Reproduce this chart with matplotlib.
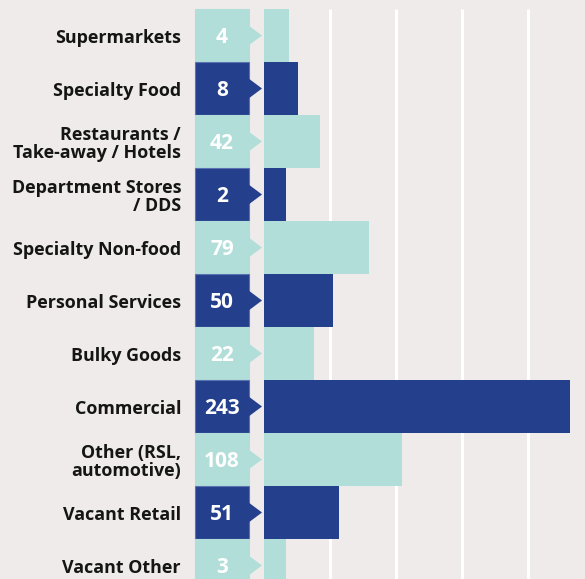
import matplotlib
matplotlib.use('Agg')
import matplotlib.pyplot as plt
from matplotlib.patches import Polygon, Rectangle

# ------------------------------------------------------
# Data
categories = ['Supermarkets', 'Specialty Food', 'Restaurants /\nTake-away / Hotels',
              'Department Stores\n/ DDS', 'Specialty Non-food', 'Personal Services',
              'Bulky Goods', 'Commercial', 'Other (RSL,\nautomotive)', 'Vacant Retail',
              'Vacant Other']
counts = [4, 8, 42, 2, 79, 50, 22, 243, 108, 51, 3]
# drawn bar lengths, in gridline units (gridlines every 50)
bar_len = [19, 26.5, 43, 16.7, 80, 53, 38, 232, 105, 57, 17.4]
gridlines = [50, 100, 150, 200]

bg = '#efebea'
light = '#b1ded8'
dark = '#243f8c'
colors = [light if i % 2 == 0 else dark for i in range(len(counts))]

W, H = 585, 579
x0 = 263.5          # px where bars start
ppu = 1.32          # px per data unit
row = 53.0          # px per row
y_first = 35.5      # px centre of first row

fig = plt.figure(figsize=(W/100, H/100), dpi=100, facecolor=bg)
ax = fig.add_axes([0, 0, 1, 1])
ax.set_facecolor(bg)
ax.set_xlim(-x0/ppu, (W-x0)/ppu)
ax.set_ylim((H-y_first)/row, -y_first/row)
ax.axis('off')

n = len(counts)
ax.vlines(gridlines, -0.5, n, color='white', lw=2.2, zorder=1)

ax.barh(range(n), bar_len, height=1.0, color=colors, zorder=2)

box_l = (195-x0)/ppu
box_r = (249-x0)/ppu
tip = (262-x0)/ppu
half = 10/row
for i, (c, col) in enumerate(zip(counts, colors)):
    ec = '#5b72b3' if col == dark else col
    ax.add_patch(Rectangle((box_l, i-0.5), box_r-box_l, 1.0, facecolor=col,
                           edgecolor=ec, lw=0.8, zorder=3))
    ax.add_patch(Polygon([(box_r-0.3, i-half), (tip, i), (box_r-0.3, i+half)],
                         closed=True, facecolor=col, edgecolor='none', zorder=4))
    ax.text((box_l+box_r)/2, i+0.04, str(c), color='white', fontsize=15,
            fontweight='bold', family='Open Sans', ha='center', va='center', zorder=5)
    ax.text((181-x0)/ppu, i+0.05, categories[i], color='#151515', fontsize=12.9,
            fontweight='bold', family='Open Sans', ha='right', va='center',
            linespacing=1.0, zorder=5)

fig.savefig('out.png', dpi=100, facecolor=bg)
